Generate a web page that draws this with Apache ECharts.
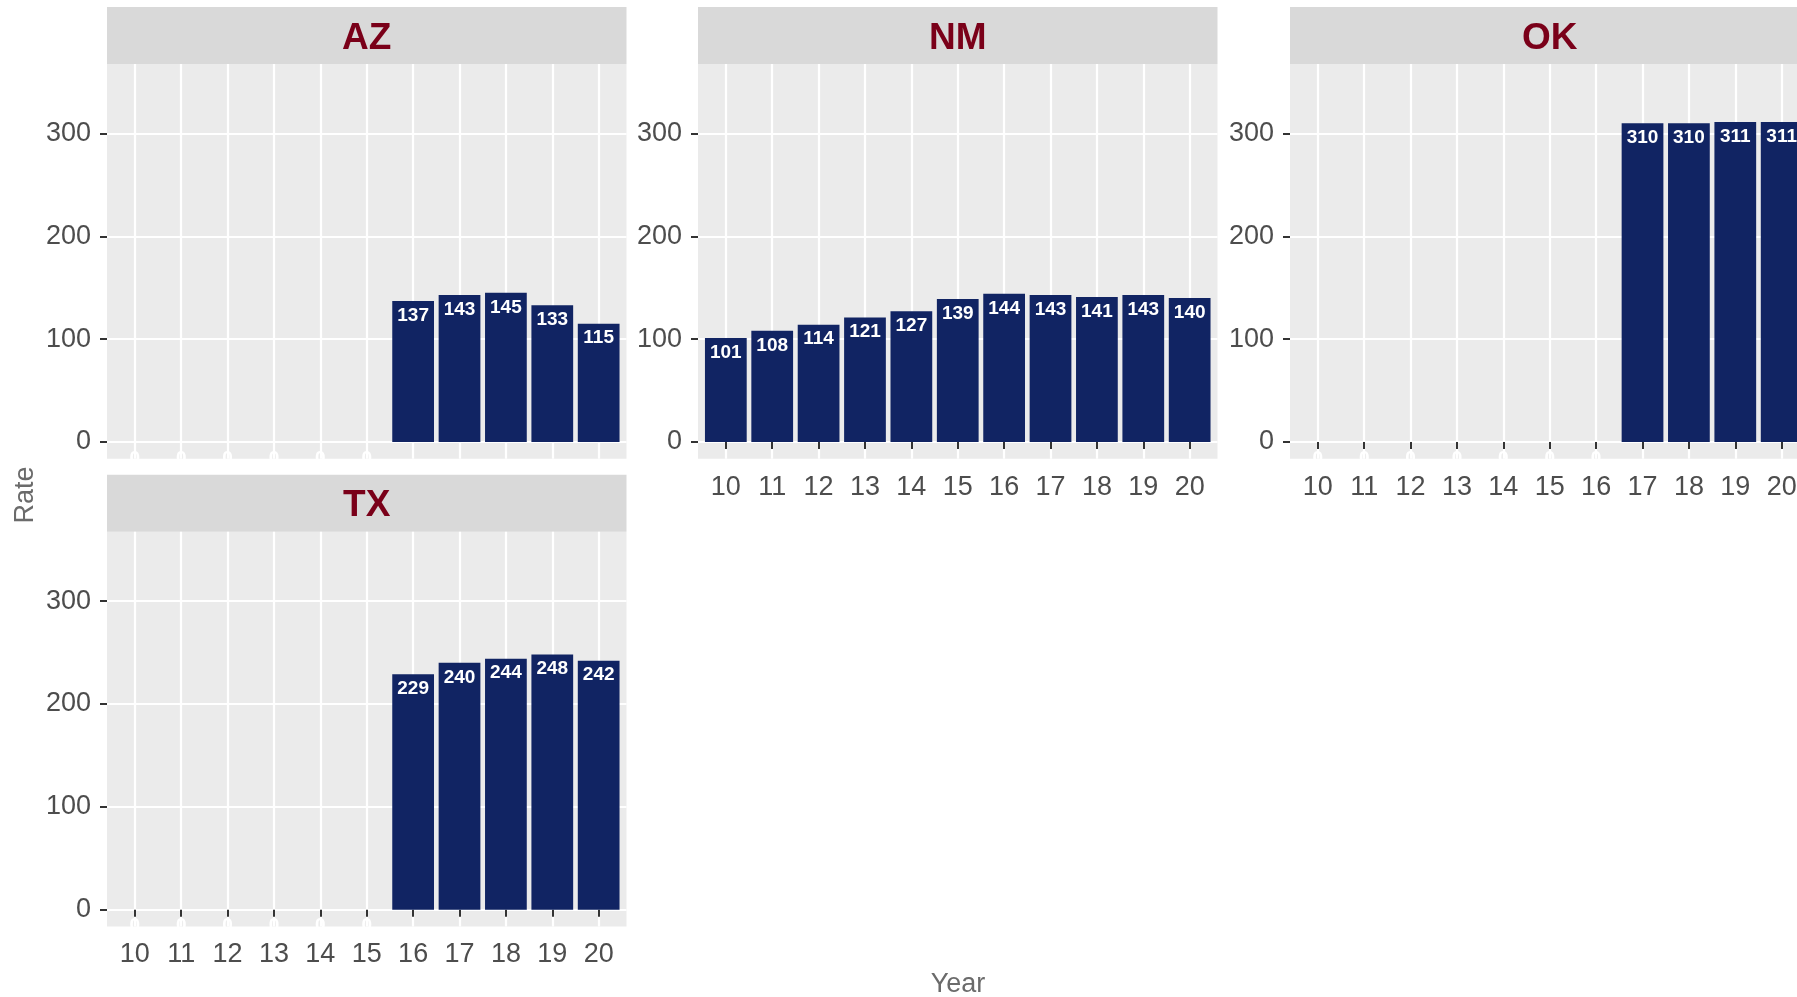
<!DOCTYPE html>
<html><head><meta charset="utf-8">
<script src="https://cdn.jsdelivr.net/npm/echarts@6/dist/echarts.min.js"></script>
<style>html,body{margin:0;padding:0;background:#fff;overflow:hidden}#c{width:1830px;height:997px}</style>
</head><body><div id="c"></div>
<script>
// ---- data ----
const years = [10, 11, 12, 13, 14, 15, 16, 17, 18, 19, 20];
const states = ['AZ', 'NM', 'OK', 'TX'];
const rateAZ = [0, 0, 0, 0, 0, 0, 137, 143, 145, 133, 115];
const rateNM = [101, 108, 114, 121, 127, 139, 144, 143, 141, 143, 140];
const rateOK = [0, 0, 0, 0, 0, 0, 0, 310, 310, 311, 311];
const rateTX = [0, 0, 0, 0, 0, 0, 229, 240, 244, 248, 242];
const yTicks = [0, 100, 200, 300];
const rates = [rateAZ, rateNM, rateOK, rateTX];

// ---- layout ----
const FONT = 'Liberation Sans, Arial, sans-serif';
const panels = [
  {left: 107, top: 64, width: 519.5, height: 394.7, xLabels: false},
  {left: 698, top: 64, width: 519.5, height: 394.7, xLabels: true},
  {left: 1290, top: 64, width: 519.5, height: 394.7, xLabels: true},
  {left: 107, top: 531.7, width: 519.5, height: 394.7, xLabels: true}
];
const STRIP_H = 57;
const BAR = '#112463';

const grids = [], xAxes = [], yAxes = [], series = [], graphics = [];
panels.forEach((p, i) => {
  grids.push({left: p.left, top: p.top, width: p.width, height: p.height,
    show: true, backgroundColor: '#EBEBEB', borderWidth: 0, containLabel: false});
  xAxes.push({
    type: 'value', gridIndex: i, min: 9.4, max: 20.6,
    axisLine: {show: false},
    axisTick: {show: p.xLabels, customValues: years, length: 7, lineStyle: {color: '#333333', width: 2}},
    axisLabel: {show: p.xLabels, customValues: years, color: '#4D4D4D', fontSize: 27, fontFamily: FONT, margin: 15},
    splitLine: {show: true, lineStyle: {color: '#FFFFFF', width: 2.2}}
  });
  yAxes.push({
    type: 'value', gridIndex: i, min: -16.3, max: 367.5,
    axisLine: {show: false},
    axisTick: {show: true, customValues: yTicks, length: 7, lineStyle: {color: '#333333', width: 2}},
    axisLabel: {show: true, customValues: yTicks, color: '#4D4D4D', fontSize: 27, fontFamily: FONT, margin: 16},
    splitLine: {show: true, lineStyle: {color: '#FFFFFF', width: 2.2}}
  });
  series.push({
    type: 'bar', name: states[i], xAxisIndex: i, yAxisIndex: i,
    data: years.map((y, k) => {
      const v = rates[i][k];
      return v > 0 ? {value: [y, v]}
        : {value: [y, v], itemStyle: {color: 'rgba(0,0,0,0)'}, label: {distance: 7}};
    }),
    barWidth: '90%',
    itemStyle: {color: BAR},
    label: {show: true, position: 'insideTop', distance: 5, color: '#FFFFFF',
      fontWeight: 'bold', fontSize: 19, fontFamily: FONT,
      formatter: d => String(d.value[1])},
    animation: false
  });
  graphics.push({type: 'rect', shape: {x: p.left, y: p.top - STRIP_H, width: p.width, height: STRIP_H},
    style: {fill: '#D9D9D9'}, silent: true});
  graphics.push({type: 'text', x: p.left + p.width / 2, y: p.top - STRIP_H / 2 + 3,
    style: {text: states[i], fill: '#7A0019', font: 'bold 37px ' + FONT, textAlign: 'center', textVerticalAlign: 'middle'}, silent: true});
});
graphics.push({type: 'text', x: 958, y: 985,
  style: {text: 'Year', fill: '#6B6B6B', font: '27px ' + FONT, textAlign: 'center', textVerticalAlign: 'middle'}});
graphics.push({type: 'text', x: 26, y: 495, rotation: Math.PI / 2,
  style: {text: 'Rate', fill: '#6B6B6B', font: '27px ' + FONT, textAlign: 'center', textVerticalAlign: 'middle'}});

const chart = echarts.init(document.getElementById('c'), null, {renderer: 'canvas'});
chart.setOption({
  animation: false,
  backgroundColor: '#FFFFFF',
  grid: grids, xAxis: xAxes, yAxis: yAxes, series: series, graphic: graphics
});
</script></body></html>
